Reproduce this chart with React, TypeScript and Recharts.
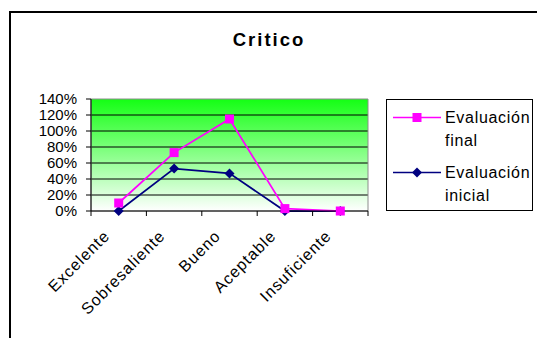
import React from 'react'
import { LineChart, Line, XAxis, YAxis, CartesianGrid, ReferenceArea, Legend } from 'recharts'

const categories = ['Excelente', 'Sobresaliente', 'Bueno', 'Aceptable', 'Insuficiente']
const finalValues = [0.1, 0.73, 1.15, 0.03, 0]
const initialValues = [0, 0.53, 0.47, 0, 0]
const yTicks = [0, 0.2, 0.4, 0.6, 0.8, 1.0, 1.2, 1.4]
const seriesNames = { final: 'Evaluación final', initial: 'Evaluación inicial' }

const FONT = '"Liberation Sans", Arial, sans-serif'
const PINK = '#ff00ff'
const NAVY = '#000080'

// points sit in the middle of each category slot, like Excel
const data = categories.map((name, i) => ({
  name,
  x: i + 0.5,
  final: finalValues[i],
  initial: initialValues[i],
}))

// integer ticks = slot boundaries (tick marks), half ticks = labels
const xTicks = [...categories.flatMap((_, i) => [i, i + 0.5]), categories.length]

const XTick = ({ x, y, payload }: any) => {
  const v = payload.value
  if (Number.isInteger(v)) {
    return <line x1={x} y1={y} x2={x} y2={y + 5} stroke="#000" />
  }
  const tx = x - 8
  const ty = y + 26
  return (
    <text
      x={tx}
      y={ty}
      transform={`rotate(-45 ${tx} ${ty})`}
      textAnchor="end"
      fill="#000"
      style={{ fontFamily: FONT, fontSize: 16, letterSpacing: 1 }}
    >
      {categories[Math.floor(v)]}
    </text>
  )
}

const Square = ({ cx, cy, index }: any) => (
  <rect key={`sq-${index}`} x={cx - 4.5} y={cy - 4.5} width={9} height={9} fill={PINK} />
)

const Diamond = ({ cx, cy, index }: any) => (
  <polygon
    key={`dm-${index}`}
    points={`${cx},${cy - 5} ${cx + 5},${cy} ${cx},${cy + 5} ${cx - 5},${cy}`}
    fill={NAVY}
  />
)

const LegendBox = () => {
  const items = [
    { label: seriesNames.final, color: PINK, marker: 'square', top: 5.5 },
    { label: seriesNames.initial, color: NAVY, marker: 'diamond', top: 61 },
  ]
  return (
    <div
      style={{
        position: 'relative',
        width: 147,
        height: 112,
        boxSizing: 'border-box',
        border: '1px solid #000',
        background: '#fff',
        fontFamily: FONT,
        fontSize: 16,
        letterSpacing: 0.7,
        color: '#000',
      }}
    >
      {items.map((it) => (
        <div key={it.label} style={{ position: 'absolute', left: 5, top: it.top, width: 142 }}>
          <svg width={50} height={23} style={{ position: 'absolute', left: 0, top: 0 }}>
            <line x1={1} y1={11.5} x2={49} y2={11.5} stroke={it.color} strokeWidth={1.5} />
            {it.marker === 'square' ? (
              <rect x={20.5} y={7} width={9} height={9} fill={it.color} />
            ) : (
              <polygon points="25,6.5 30,11.5 25,16.5 20,11.5" fill={it.color} />
            )}
          </svg>
          <div style={{ position: 'absolute', left: 53, top: 0, width: 92, lineHeight: '23px' }}>
            {it.label}
          </div>
        </div>
      ))}
    </div>
  )
}

export default function App() {
  return (
    <div style={{ position: 'absolute', left: 0, top: 0, width: 537, height: 338, background: '#fff', overflow: 'hidden' }}>
      {/* chart frame, only left and top edges fall inside the picture */}
      <div
        style={{
          position: 'absolute',
          left: 9,
          top: 11,
          width: 600,
          height: 400,
          borderLeft: '2px solid #000',
          borderTop: '2px solid #000',
        }}
      />
      <div
        style={{
          position: 'absolute',
          left: 169,
          width: 200,
          top: 28,
          textAlign: 'center',
          fontFamily: FONT,
          fontWeight: 'bold',
          fontSize: 18.5,
          letterSpacing: 2,
          lineHeight: '24px',
        }}
      >
        Critico
      </div>
      <div style={{ position: 'absolute', left: 0, top: 0 }}>
        <LineChart width={537} height={338} data={data} margin={{ top: 99, right: 169, bottom: 67, left: 0 }}>
          <defs>
            <linearGradient id="plotBg" x1="0" y1="0" x2="0" y2="1">
              <stop offset="0%" stopColor="#14ff14" />
              <stop offset="100%" stopColor="#ffffff" />
            </linearGradient>
          </defs>
          <CartesianGrid
            vertical={false}
            stroke="#000"
            fill="url(#plotBg)"
            fillOpacity={1}
            horizontalValues={yTicks.slice(1, -1)}
          />
          <ReferenceArea x1={0} x2={categories.length} y1={0} y2={1.4} fill="none" stroke="#8c8c8c" />
          <XAxis
            dataKey="x"
            type="number"
            domain={[0, categories.length]}
            ticks={xTicks}
            interval={0}
            height={60}
            tickLine={false}
            tickSize={0}
            tickMargin={0}
            axisLine={{ stroke: '#000' }}
            tick={<XTick />}
          />
          <YAxis
            type="number"
            domain={[0, 1.4]}
            ticks={yTicks}
            interval={0}
            width={91}
            tickSize={5}
            tickMargin={9}
            axisLine={{ stroke: '#000' }}
            tickLine={{ stroke: '#000' }}
            tick={{ fill: '#000', fontSize: 15, fontFamily: FONT }}
            tickFormatter={(v: number) => `${Math.round(v * 100)}%`}
          />
          <Legend
            layout="horizontal"
            verticalAlign="middle"
            align="center"
            wrapperStyle={{ left: 386, top: 99, width: 147, height: 112 }}
            content={<LegendBox />}
          />
          <Line
            dataKey="initial"
            name={seriesNames.initial}
            stroke={NAVY}
            strokeWidth={1.75}
            dot={Diamond}
            activeDot={false}
            isAnimationActive={false}
          />
          <Line
            dataKey="final"
            name={seriesNames.final}
            stroke={PINK}
            strokeWidth={1.75}
            dot={Square}
            activeDot={false}
            isAnimationActive={false}
          />
        </LineChart>
      </div>
    </div>
  )
}
